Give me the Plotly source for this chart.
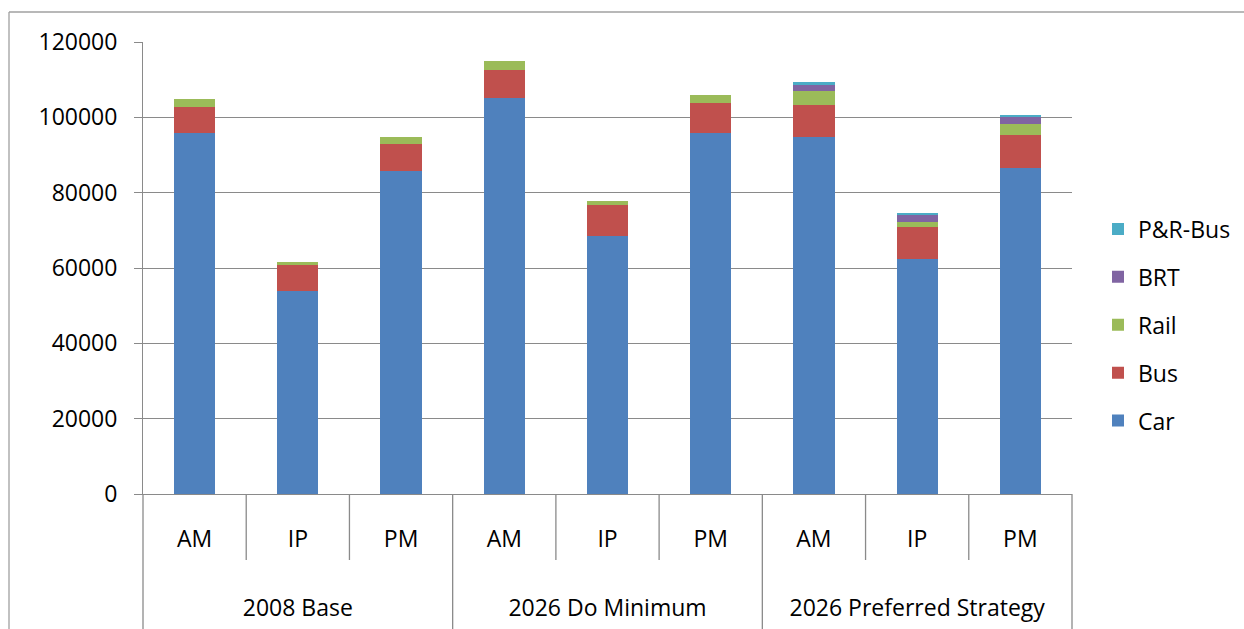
import plotly.graph_objects as go

groups = ["2008 Base"] * 3 + ["2026 Do Minimum"] * 3 + ["2026 Preferred Strategy"] * 3
periods = ["AM", "IP", "PM"] * 3

car = [95900, 53800, 85800, 105100, 68600, 95900, 94900, 62300, 86500]
bus = [6900, 7000, 7200, 7500, 8200, 7900, 8500, 8600, 8900]
rail = [2200, 700, 1800, 2400, 1000, 2100, 3600, 1300, 2800]
brt = [0, 0, 0, 0, 0, 0, 1700, 2100, 1900]
pr_bus = [0, 0, 0, 0, 0, 0, 600, 200, 300]

series = [
    ("Car", car, "#4F81BD"),
    ("Bus", bus, "#C0504D"),
    ("Rail", rail, "#9BBB59"),
    ("BRT", brt, "#8064A2"),
    ("P&R-Bus", pr_bus, "#4BACC6"),
]

W, H = 1244, 629
L, R, T, B = 143, 172, 42, 135
pw, ph = W - L - R, H - T - B

# second-level (group) labels sit lower in the reference: pad them with blank lines
group_labels = ["<br><br>" + g for g in groups]

fig = go.Figure()
for i, (name, vals, col) in enumerate(series):
    fig.add_trace(go.Bar(
        x=[group_labels, periods], y=vals, name=name,
        marker=dict(color=col, line=dict(width=0)),
        legendgroup=name, legendrank=len(series) - i,
    ))

FONT = "Open Sans"
FS = 23
grid = "#8a8a8a"

fig.update_layout(
    width=W, height=H,
    margin=dict(l=L, r=R, t=T, b=B, pad=0, autoexpand=False),
    barmode="stack", bargap=0.6,
    paper_bgcolor="white", plot_bgcolor="white",
    font=dict(family=FONT, size=FS, color="black"),
    showlegend=True,
    legend=dict(
        x=(1098 - L) / pw, y=(494 - 325) / ph, xanchor="left", yanchor="middle",
        traceorder="grouped", tracegroupgap=15, font=dict(size=FS, family=FONT),
        itemwidth=30, bgcolor="rgba(0,0,0,0)",
    ),
    xaxis=dict(
        type="multicategory", showdividers=False, ticks="",
        showline=True, linecolor=grid, linewidth=1,
        showgrid=False, tickfont=dict(size=FS, family=FONT),
        ticklabelstandoff=24,
    ),
    yaxis=dict(
        range=[0, 120000], tickvals=[0, 20000, 40000, 60000, 80000, 100000, 120000],
        ticktext=["0", "20000", "40000", "60000", "80000", "100000", "120000"],
        showgrid=True, gridcolor=grid, gridwidth=1,
        showline=True, linecolor=grid, linewidth=1,
        ticks="outside", ticklen=8, tickcolor=grid,
        zeroline=False, tickfont=dict(size=FS, family=FONT),
        ticklabelstandoff=12,
    ),
)

# Category dividers (Excel-style)
n = len(periods)
inner_bottom = -(560 - 494) / ph
outer_bottom = -(H - 494) / ph
shapes = []
for k in range(n + 1):
    xf = k / n
    is_group = (k % 3 == 0)
    shapes.append(dict(
        type="line", xref="x domain", yref="paper",
        x0=xf, x1=xf, y0=0, y1=outer_bottom if is_group else inner_bottom,
        line=dict(color=grid, width=1.3),
    ))
# chart frame (top and left edges)
fx = (9 - L) / pw
fy = (494 - 12) / ph
shapes.append(dict(type="line", xref="paper", yref="paper", x0=fx, x1=(W - L) / pw,
                   y0=fy, y1=fy, line=dict(color="#a0a0a0", width=1.3)))
shapes.append(dict(type="line", xref="paper", yref="paper", x0=fx, x1=fx,
                   y0=fy, y1=outer_bottom, line=dict(color="#a0a0a0", width=1.3)))
fig.update_layout(shapes=shapes)

fig.write_html("out.html")
